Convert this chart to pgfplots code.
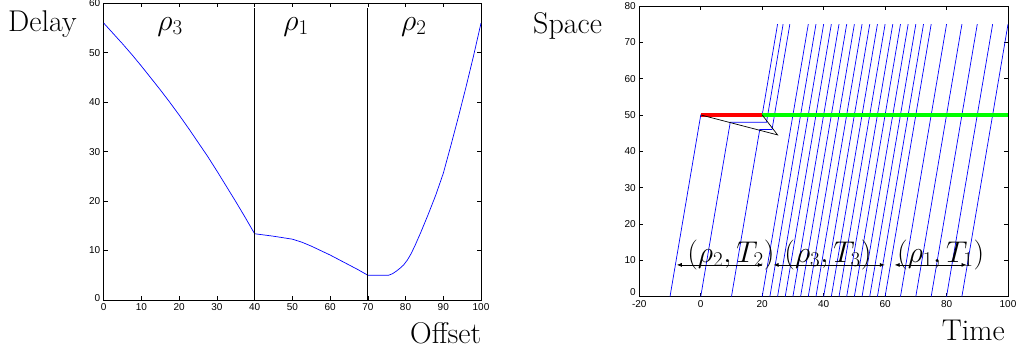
\RequirePackage{fix-cm}
\documentclass[border=0pt]{standalone}
\usepackage{fontspec}
\newfontfamily\arial{Liberation Sans}
\usepackage{pgfplots}
\pgfplotsset{compat=1.18}
\usetikzlibrary{arrows.meta}
\tikzset{big/.style={font=\fontsize{30}{36}\selectfont},
  traj/.style={blue, line width=0.7pt, mark=none},
  dbl/.style={black, line width=0.7pt, mark=none, {Latex[length=5pt,width=4pt]}-{Latex[length=5pt,width=4pt]}}}
\begin{document}
\begin{tikzpicture}
\useasboundingbox (0,0) rectangle (1017pt,351pt);
\pgfplotsset{mat/.style={scale only axis, anchor=south west,
  axis line style={line width=0.8pt},
  tick align=inside, tick pos=both, major tick length=4pt,
  tick style={line width=0.6pt, black},
  ticklabel style={font=\arial\fontsize{10}{12}\selectfont},
  /pgf/number format/assume math mode=true}}
% ---------- left panel ----------
\begin{axis}[mat, at={(103.7pt,51pt)}, width=377.3pt, height=296.7pt,
  xmin=0, xmax=100, ymin=0, ymax=60,
  xtick={0,10,...,100}, ytick={10,20,...,60},
  extra y ticks={0}, extra y tick style={yticklabel style={yshift=2pt}}]
\addplot[traj] coordinates {
 (0,56.0) (2.5,53.9) (5,51.8) (7.5,49.6) (10,47.3) (12.5,44.9) (15,42.5) (17.5,40.0) (20,37.4)
 (22.5,34.7) (25,31.9) (27.5,29.1) (30,26.1) (32.5,23.0) (35,19.9) (37.5,16.7) (40,13.4)
 (42,13.2) (45,12.9) (47.5,12.6) (50,12.3) (52.5,11.7) (55,10.9) (57.5,10.0) (60,9.1)
 (62.5,8.1) (65,7.1) (67.5,6.1) (70,5.0)
 (75.5,5.0) (76.5,5.3) (77.5,5.8) (78.5,6.4) (79.5,7.1) (80.5,8.1) (81.5,9.4) (82.5,11.0)
 (84,13.6) (86,17.3) (88,21.2) (90,25.6) (92,31.2) (94,37.0) (96,43.0) (98,49.3) (100,56.0)};
\addplot[black, line width=0.7pt, mark=none] coordinates {(40,0) (40,59)};
\addplot[black, line width=0.7pt, mark=none] coordinates {(70,0) (70,59)};
\node[big, anchor=base] at (axis cs:17.6,54.6) {$\rho_3$};
\node[big, anchor=base] at (axis cs:51,54.6) {$\rho_1$};
\node[big, anchor=base] at (axis cs:82.2,54.6) {$\rho_2$};
\end{axis}
% ---------- right panel ----------
\begin{axis}[mat, at={(639.3pt,54.5pt)}, width=368.7pt, height=290.5pt,
  xmin=-20, xmax=100, ymin=0, ymax=80,
  xtick={-20,0,...,100}, ytick={10,20,...,80},
  extra y ticks={0}, extra y tick style={yticklabel style={yshift=4pt}}]
\addplot[traj] coordinates {(-10,0) (0,50) (20,50) (25,75)};
\addplot[traj] coordinates {(0,0) (9.6,48) (21.4,48) (26.8,75)};
\addplot[traj] coordinates {(10,0) (19.2,46) (23.2,46) (29,75)};
\addplot[traj] coordinates {(20,0) (35,75)};
\addplot[traj] coordinates {(22.5,0) (37.5,75)};
\addplot[traj] coordinates {(25,0) (40,75)};
\addplot[traj] coordinates {(27.5,0) (42.5,75)};
\addplot[traj] coordinates {(30,0) (45,75)};
\addplot[traj] coordinates {(32.5,0) (47.5,75)};
\addplot[traj] coordinates {(35,0) (50,75)};
\addplot[traj] coordinates {(37.5,0) (52.5,75)};
\addplot[traj] coordinates {(40,0) (55,75)};
\addplot[traj] coordinates {(42.5,0) (57.5,75)};
\addplot[traj] coordinates {(45,0) (60,75)};
\addplot[traj] coordinates {(47.5,0) (62.5,75)};
\addplot[traj] coordinates {(50,0) (65,75)};
\addplot[traj] coordinates {(52.5,0) (67.5,75)};
\addplot[traj] coordinates {(55,0) (70,75)};
\addplot[traj] coordinates {(57.5,0) (72.5,75)};
\addplot[traj] coordinates {(60,0) (75,75)};
\addplot[traj] coordinates {(65,0) (80,75)};
\addplot[traj] coordinates {(70,0) (85,75)};
\addplot[traj] coordinates {(75,0) (90,75)};
\addplot[traj] coordinates {(80,0) (95,75)};
\addplot[traj] coordinates {(85,0) (100,75)};
\addplot[red, line width=4pt, mark=none] coordinates {(0,50) (20,50)};
\addplot[green, line width=4pt, mark=none] coordinates {(20,50) (100,50)};
\addplot[black, line width=0.7pt, mark=none] coordinates {(0,50) (25,44.5) (20,50)};
\addplot[dbl] coordinates {(-7.8,8.7) (20.2,8.7)};
\addplot[dbl] coordinates {(23.7,8.7) (59.9,8.7)};
\addplot[dbl] coordinates {(63.1,8.7) (86.5,8.7)};
\node[big, anchor=base] at (axis cs:9.8,9.5) {$(\rho_2,T_2)$};
\node[big, anchor=base] at (axis cs:41.4,9.5) {$(\rho_3,T_3)$};
\node[big, anchor=base] at (axis cs:78.1,9.5) {$(\rho_1,T_1)$};
\end{axis}
% ---------- outer labels ----------
\node[big, anchor=base west, inner sep=0] at (8pt,319pt) {Delay};
\node[big, anchor=base west, inner sep=0] at (410pt,8pt) {Offset};
\node[big, anchor=base west, inner sep=0] at (533pt,317pt) {Space};
\node[big, anchor=base west, inner sep=0] at (941.7pt,11pt) {Time};
\end{tikzpicture}
\end{document}
